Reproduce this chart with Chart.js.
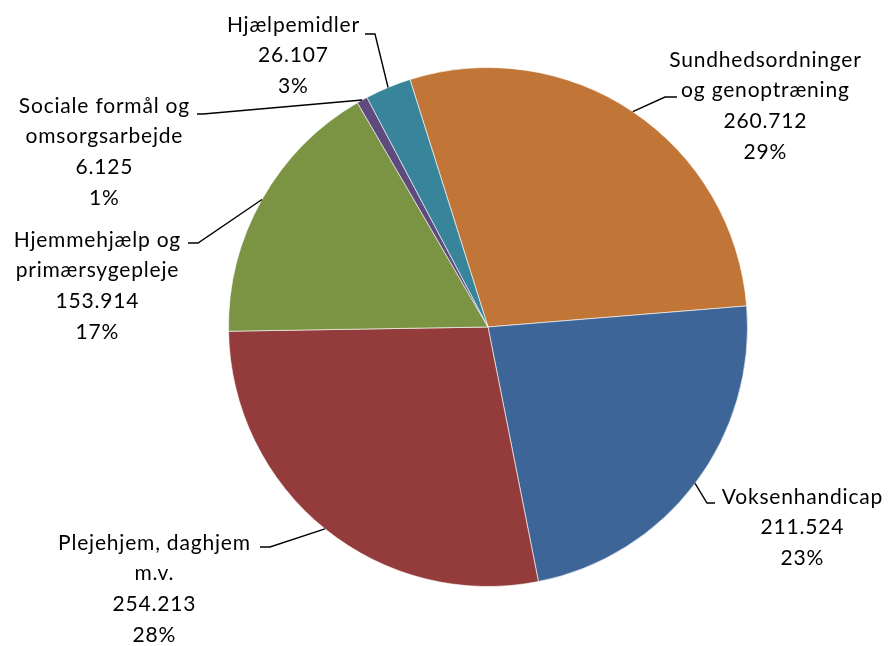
<!DOCTYPE html>
<html>
<head>
<meta charset="utf-8">
<script src="https://cdn.jsdelivr.net/npm/chart.js@4.4.1/dist/chart.umd.min.js"></script>
<style>
html,body{margin:0;padding:0;background:#fff;}
#wrap{width:889px;height:646px;position:relative;}
</style>
</head>
<body>
<div id="wrap"><canvas id="c" width="889" height="646"></canvas></div>
<script>
// ---- data ----
const categories = [
  "Sundhedsordninger\nog genoptræning",
  "Voksenhandicap",
  "Plejehjem, daghjem\nm.v.",
  "Hjemmehjælp og\nprimærsygepleje",
  "Sociale formål og\nomsorgsarbejde",
  "Hjælpemidler"
];
const values = [260712, 211524, 254213, 153914, 6125, 26107];
const colors = ["#C17637", "#3D6597", "#943C3C", "#7A9444", "#5E4A7D", "#38849A"];

// label layout: text block center x, first line middle y, leader elbow points
const labelLayout = [
  {x: 765, y: 60,  line: [[677, 97], [665, 97]]},
  {x: 802, y: 497, line: [[715, 503], [707, 503]]},
  {x: 154, y: 543, line: [[260, 547], [270, 547]]},
  {x: 97,  y: 240, line: [[188, 243], [198, 243]]},
  {x: 104, y: 106, line: [[197, 114], [203, 114]]},
  {x: 293, y: 25,  line: [[365, 34], [375, 34]]}
];

function fmt(v){
  return String(v).replace(/\B(?=(\d{3})+(?!\d))/g, ".");
}

const labelPlugin = {
  id: 'pieLabels',
  afterDatasetsDraw(chart){
    const ctx = chart.ctx;
    const meta = chart.getDatasetMeta(0);
    const data = chart.data.datasets[0].data;
    const total = data.reduce((a,b)=>a+b,0);
    ctx.save();
    meta.data.forEach((arc, i) => {
      const p = arc.getProps(['x','y','startAngle','endAngle','outerRadius'], true);
      const mid = (p.startAngle + p.endAngle)/2;
      const ex = p.x + Math.cos(mid)*p.outerRadius;
      const ey = p.y + Math.sin(mid)*p.outerRadius;
      const L = labelLayout[i];
      ctx.strokeStyle = '#000';
      ctx.lineWidth = 1.4;
      ctx.beginPath();
      ctx.moveTo(L.line[0][0], L.line[0][1]);
      ctx.lineTo(L.line[1][0], L.line[1][1]);
      ctx.lineTo(ex, ey);
      ctx.stroke();
      const lines = chart.data.labels[i].split("\n");
      lines.push(fmt(data[i]));
      lines.push(Math.round(data[i]/total*100) + "%");
      ctx.fillStyle = '#000';
      ctx.font = '21px Lato, "Open Sans", sans-serif';
      ctx.letterSpacing = '0.8px';
      ctx.textAlign = 'center';
      ctx.textBaseline = 'middle';
      lines.forEach((t, k) => {
        ctx.fillText(t, L.x + 0.4, L.y + k*30.7);
      });
    });
    ctx.restore();
  }
};

new Chart(document.getElementById('c'), {
  type: 'pie',
  data: {
    labels: categories,
    datasets: [{
      data: values,
      backgroundColor: colors,
      borderColor: 'rgba(255,255,255,0.6)',
      borderWidth: 1
    }]
  },
  options: {
    responsive: false,
    animation: false,
    rotation: -17.5,
    layout: {padding: {top: 67, bottom: 59, left: 228, right: 141}},
    plugins: {legend: {display: false}, tooltip: {enabled: false}}
  },
  plugins: [labelPlugin]
});
</script>
</body>
</html>
